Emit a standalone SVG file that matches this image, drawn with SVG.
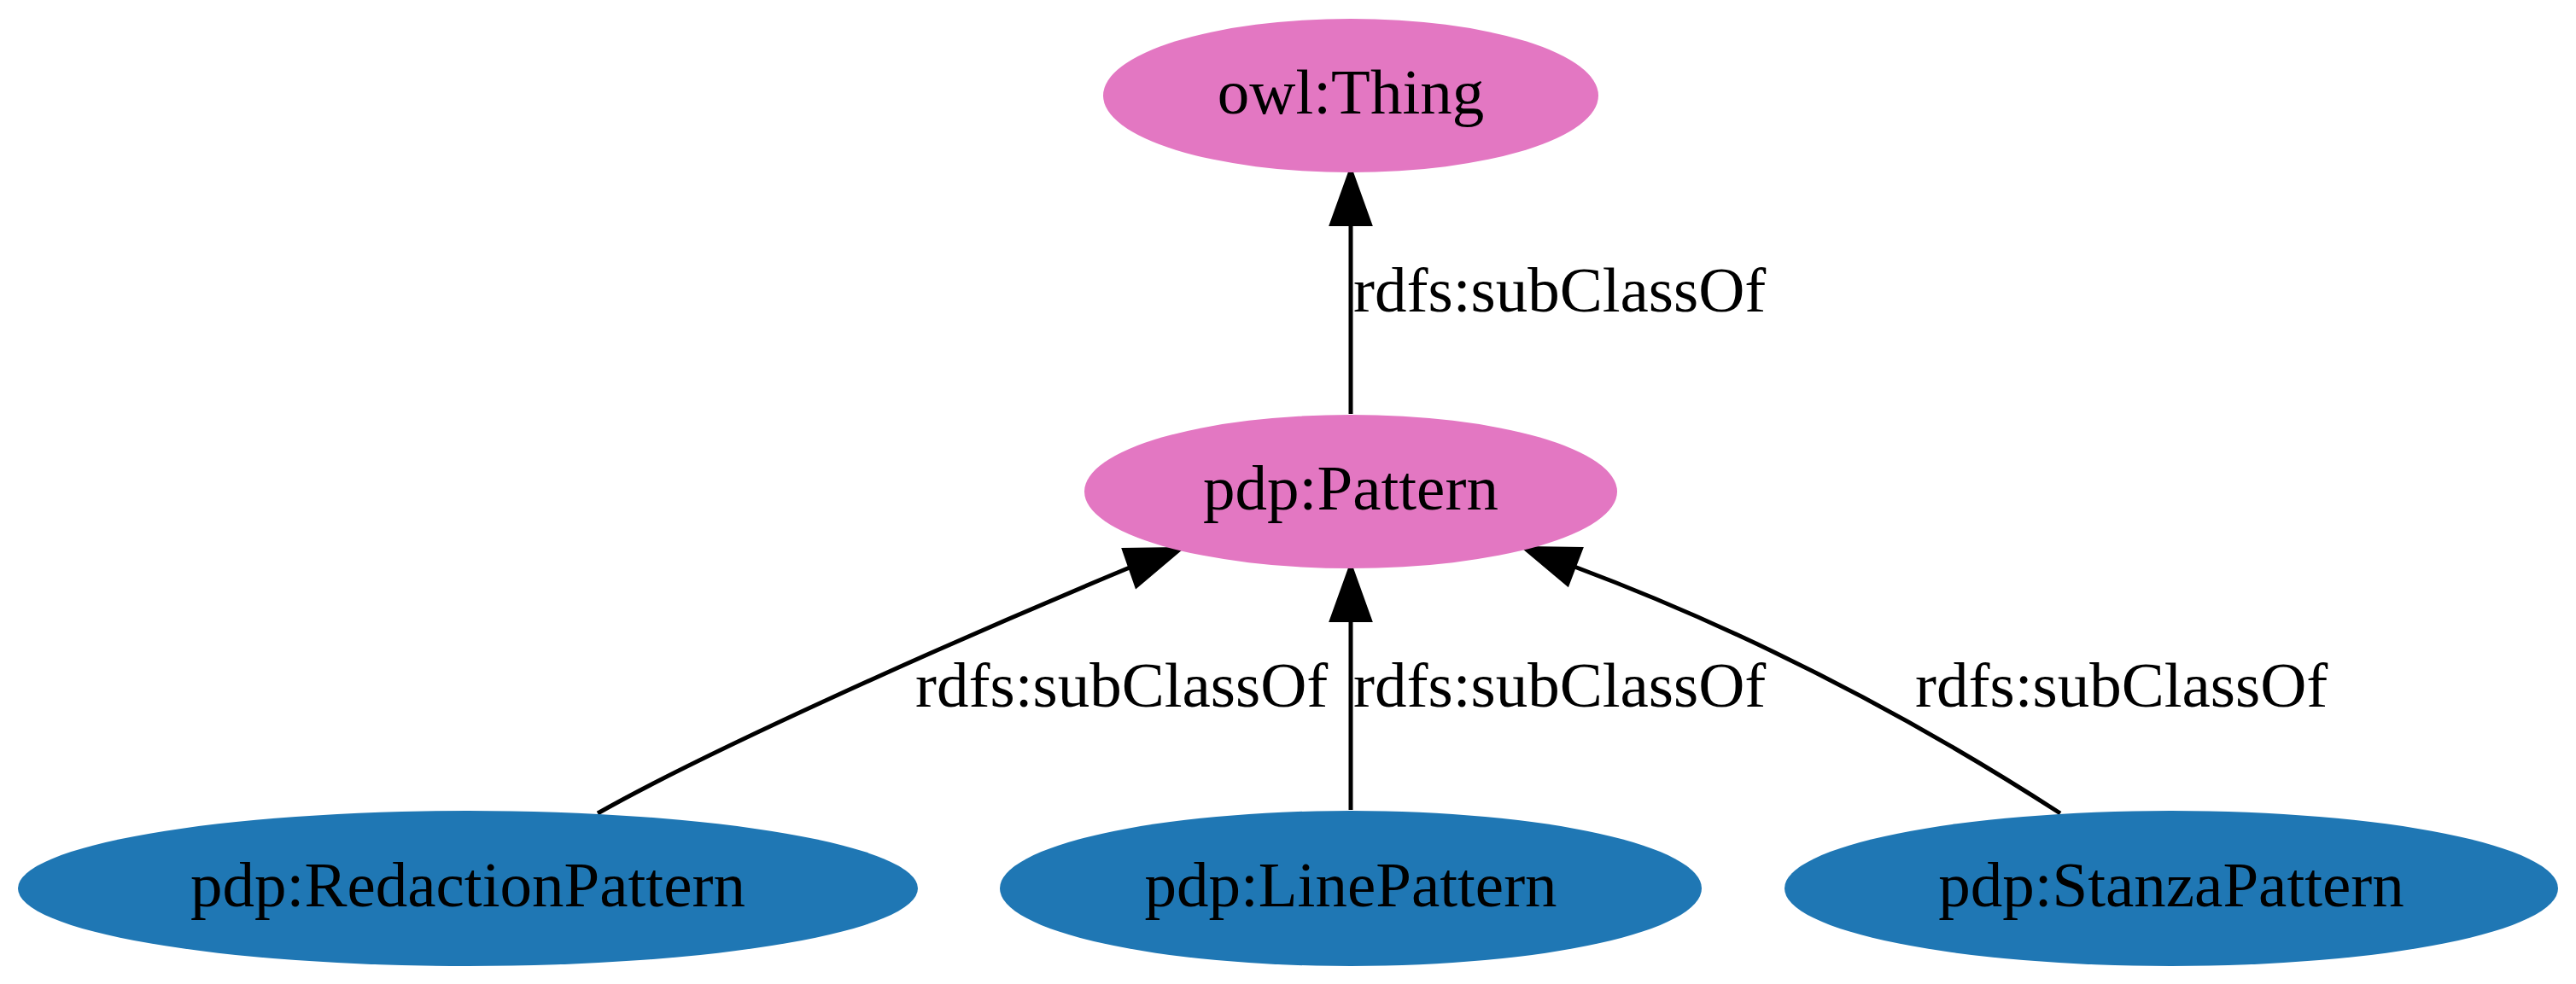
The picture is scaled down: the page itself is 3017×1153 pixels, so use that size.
<svg xmlns="http://www.w3.org/2000/svg" width="3017" height="1153" viewBox="0 0 3017 1153">
<style>
.bg{fill:#ffffff}
.pink{fill:#e377c2;stroke:none}
.blue{fill:#1f77b4;stroke:none}
.nt{font-family:"Liberation Serif","Times New Roman",serif;font-size:75px;fill:#000000;text-anchor:middle}
.el{font-family:"Liberation Serif","Times New Roman",serif;font-size:75px;fill:#000000;text-anchor:start}
.edge{fill:none;stroke:#000000;stroke-width:5}
.head{fill:#000000;stroke:#000000;stroke-width:4;stroke-linejoin:miter}
</style>
<rect class="bg" x="0" y="0" width="3017" height="1153"/>
<g id="connectors">
<g id="e_pattern_thing">
<path class="edge" d="M1582,485 L1582,263"/>
<polygon class="head" points="1582,199 1559,263 1605,263"/>
<text class="el" x="1585" y="365">rdfs:subClassOf</text>
</g>
<g id="e_redaction_pattern">
<path class="edge" d="M700,953 C825,882 1100,758 1323,665"/>
<polygon class="head" points="1383,643 1316,644 1331,687"/>
<text class="el" x="1072" y="828">rdfs:subClassOf</text>
</g>
<g id="e_line_pattern">
<path class="edge" d="M1582,949 L1582,727"/>
<polygon class="head" points="1582,663 1559,727 1605,727"/>
<text class="el" x="1585" y="828">rdfs:subClassOf</text>
</g>
<g id="e_stanza_pattern">
<path class="edge" d="M2413,953 C2300,880 2100,760 1844,664"/>
<polygon class="head" points="1785,642 1852,643 1836,685"/>
<text class="el" x="2243" y="828">rdfs:subClassOf</text>
</g>
</g>
<g id="node_owl_Thing">
<ellipse class="pink" cx="1582" cy="112" rx="290" ry="90"/>
<text class="nt" x="1582" y="133">owl:Thing</text>
</g>
<g id="node_pdp_Pattern">
<ellipse class="pink" cx="1582" cy="576" rx="312" ry="90"/>
<text class="nt" x="1582" y="597">pdp:Pattern</text>
</g>
<g id="node_pdp_RedactionPattern">
<ellipse class="blue" cx="548" cy="1041" rx="527" ry="91"/>
<text class="nt" x="548" y="1062">pdp:RedactionPattern</text>
</g>
<g id="node_pdp_LinePattern">
<ellipse class="blue" cx="1582" cy="1041" rx="411" ry="91"/>
<text class="nt" x="1582" y="1062">pdp:LinePattern</text>
</g>
<g id="node_pdp_StanzaPattern">
<ellipse class="blue" cx="2543" cy="1041" rx="453" ry="91"/>
<text class="nt" x="2543" y="1062">pdp:StanzaPattern</text>
</g>
</svg>
